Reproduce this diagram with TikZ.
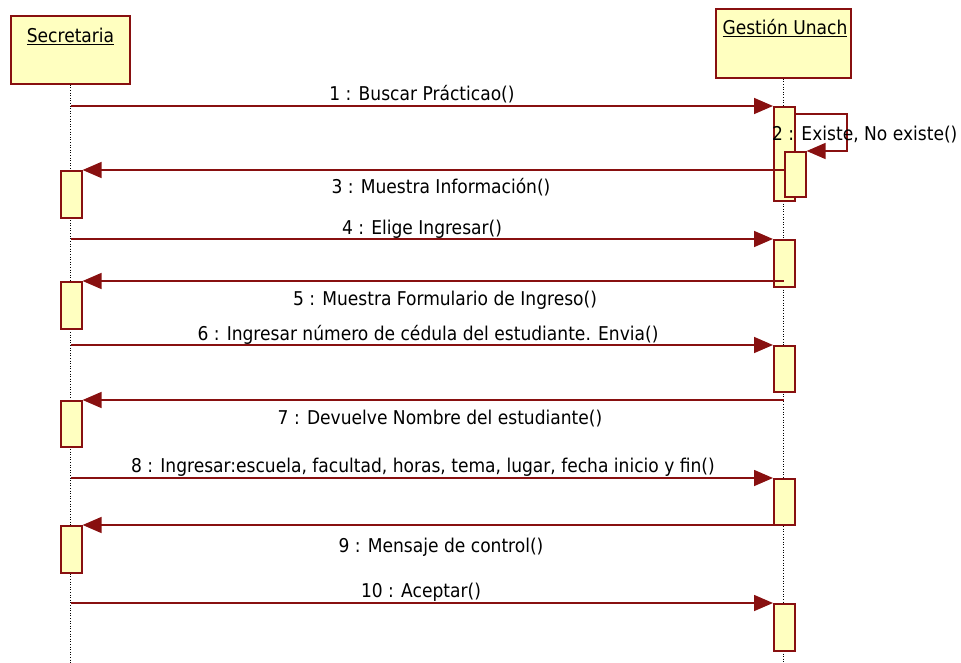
\documentclass[tikz,border=0pt]{standalone}
\usepackage{fontspec}
\setmainfont{DejaVu Sans Condensed}
\usetikzlibrary{arrows.meta}

\definecolor{umlred}{RGB}{136,16,16}
\definecolor{umlfill}{RGB}{255,255,192}

\begin{document}
\begin{tikzpicture}[x=1pt,y=-1pt,
  font=\fontsize{19}{23}\selectfont,
  headbox/.style={draw=umlred, fill=umlfill, line width=1.8pt, inner sep=0pt},
  headname/.style={anchor=base, inner sep=0pt},
  lifeline/.style={draw=black, line width=1pt, dash pattern=on 1pt off 1.6pt},
  actbox/.style={draw=umlred, fill=umlfill, line width=1.6pt, inner sep=0pt,
    anchor=north west, minimum width=21pt},
  msg/.style={draw=umlred, line width=1.6pt,
    -{Triangle[length=19pt,width=16pt]}},
  msglabel/.style={anchor=base, inner sep=0pt, text=black},
]
\useasboundingbox (0,0) rectangle (961,663);

% lifeline heads
\node[headbox, minimum width=119pt, minimum height=68pt] (sec) at (70.5,50) {};
\node[headname] (secname) at (70.5,43) {\underline{Secretaria}};
\node[headbox, minimum width=135pt, minimum height=69pt] (gest) at (783.5,43.5) {};
\node[headname] (gestname) at (785,35) {\underline{Gestión Unach}};

% lifelines
\coordinate (secend) at (70.5,663);
\coordinate (gestend) at (783.5,663);
\draw[lifeline] (sec.south) -- (secend);
\draw[lifeline] (gest.south) -- (gestend);

% activations on Gestión Unach
\node[actbox, minimum height=94pt] (g1) at (773,106) {};
\node[actbox, minimum height=45pt] (g1n) at (784,151) {};
\node[actbox, minimum height=47pt] (g2) at (773,239) {};
\node[actbox, minimum height=46pt] (g3) at (773,345) {};
\node[actbox, minimum height=46pt] (g4) at (773,478) {};
\node[actbox, minimum height=47pt] (g5) at (773,603) {};

% activations on Secretaria
\node[actbox, minimum height=47pt] (s1) at (60,170) {};
\node[actbox, minimum height=47pt] (s2) at (60,281) {};
\node[actbox, minimum height=46pt] (s3) at (60,400) {};
\node[actbox, minimum height=47pt] (s4) at (60,525) {};

% calls
\draw[msg] (sec |- g1.north west) -- (g1.north west);
\node[msglabel] (m1) at (422,101) {1 : Buscar Prácticao()};

\coordinate (selfstart) at (794,114);
\draw[msg] (selfstart) -- ++(53,0) |- (g1n.north east);
\node[msglabel, anchor=base west] (m2) at (772,141) {2 : Existe, No existe()};

\draw[msg] (g1n.west |- s1.north east) -- (s1.north east);
\node[msglabel] (m3) at (441,194) {3 : Muestra Información()};

\draw[msg] (sec |- g2.north west) -- (g2.north west);
\node[msglabel] (m4) at (422,234) {4 : Elige Ingresar()};

\draw[msg] (gest |- s2.north east) -- (s2.north east);
\node[msglabel] (m5) at (445,305) {5 : Muestra Formulario de Ingreso()};

\draw[msg] (sec |- g3.north west) -- (g3.north west);
\node[msglabel] (m6) at (428,340) {6 : Ingresar número de cédula del estudiante. Envia()};

\draw[msg] (gest |- s3.north east) -- (s3.north east);
\node[msglabel] (m7) at (440,424) {7 : Devuelve Nombre del estudiante()};

\draw[msg] (sec |- g4.north west) -- (g4.north west);
\node[msglabel] (m8) at (423,472) {8 : Ingresar:escuela, facultad, horas, tema, lugar, fecha inicio y fin()};

\draw[msg] (gest |- s4.north east) -- (s4.north east);
\node[msglabel] (m9) at (441,552) {9 : Mensaje de control()};

\draw[msg] (sec |- g5.north west) -- (g5.north west);
\node[msglabel] (m10) at (421,597) {10 : Aceptar()};
\end{tikzpicture}
\end{document}
